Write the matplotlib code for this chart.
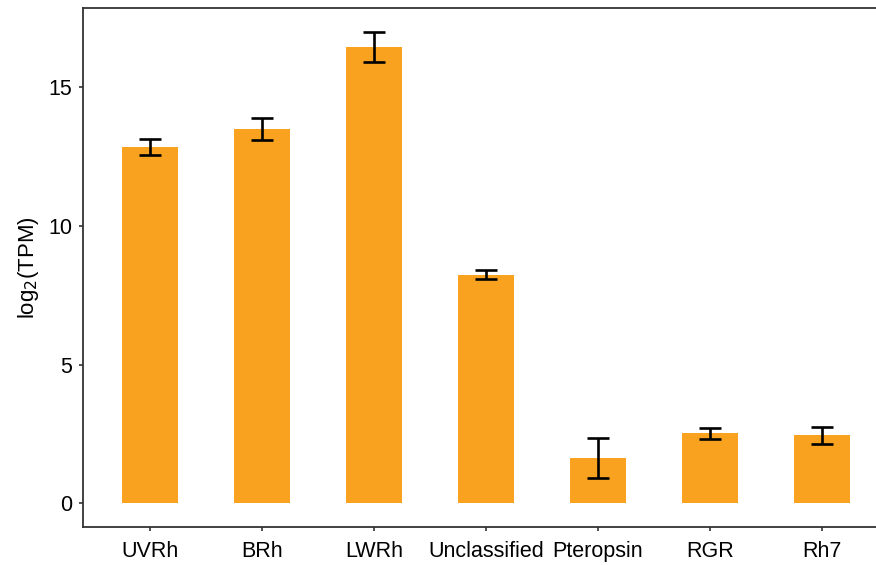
import matplotlib.pyplot as plt
import numpy as np

plt.rcParams['font.family'] = ['Liberation Sans', 'DejaVu Sans']

genes = ['UVRh', 'BRh', 'LWRh', 'Unclassified', 'Pteropsin', 'RGR', 'Rh7']
means = [12.84, 13.49, 16.44, 8.24, 1.62, 2.52, 2.45]
errs = [0.30, 0.40, 0.55, 0.17, 0.72, 0.20, 0.31]

fig = plt.figure(figsize=(8.76, 5.65), dpi=100)
ax = fig.add_axes([83 / 876, 38 / 565, 806 / 876, 519 / 565])

x = np.arange(1, len(genes) + 1)
ax.bar(x, means, width=0.5, color='#F8A21F', zorder=2)
ax.errorbar(x, means, yerr=errs, fmt='none', ecolor='black',
            elinewidth=1.9, capsize=8, capthick=1.9, zorder=3)

top = max(m + e for m, e in zip(means, errs))
ax.set_xlim(0.4, 7.6)
ax.set_ylim(-0.05 * top, top * 1.05)
ax.set_xticks(x)
ax.set_xticklabels(genes)
ax.set_yticks([0, 5, 10, 15])
ax.set_ylabel('log$_2$(TPM)', fontsize=16, labelpad=5)

for s in ax.spines.values():
    s.set_color('#333333')
    s.set_linewidth(1.3)
ax.tick_params(colors='#333333', length=3, width=1.2, labelsize=15.5,
               labelcolor='black')
ax.tick_params(axis='x', pad=7)
ax.tick_params(axis='y', pad=5)

fig.savefig('out.png', dpi=100)
